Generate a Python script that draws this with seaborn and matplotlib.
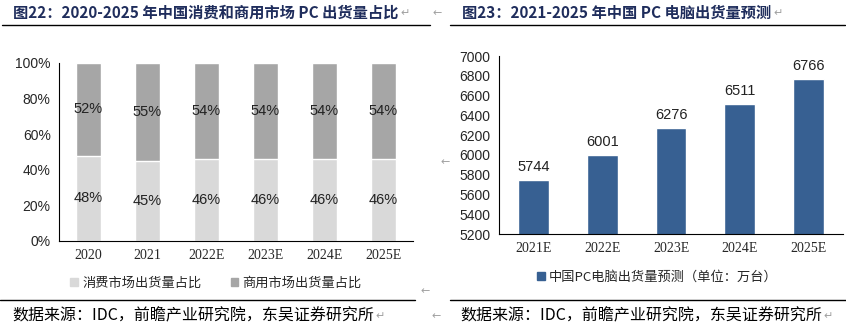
import matplotlib
matplotlib.use("Agg")
import matplotlib.pyplot as plt
from matplotlib.patches import Patch
from matplotlib.lines import Line2D
import seaborn as sns
import pandas as pd
import numpy as np

sns.set_theme(style="white")
plt.rcParams['font.family'] = ['Noto Sans CJK SC', 'DejaVu Sans']

# ---------------- data ----------------
share_years = ["2020", "2021", "2022E", "2023E", "2024E", "2025E"]
consumer_share = [48, 45, 46, 46, 46, 46]
commercial_share = [52, 55, 54, 54, 54, 54]

ship_years = ["2021E", "2022E", "2023E", "2024E", "2025E"]
shipments = [5744, 6001, 6276, 6511, 6766]

title_left = "图22：2020-2025 年中国消费和商用市场 PC 出货量占比"
title_right = "图23：2021-2025 年中国 PC 电脑出货量预测"
source_text = "数据来源：IDC，前瞻产业研究院，东吴证券研究所"
legend_left = ["消费市场出货量占比", "商用市场出货量占比"]
legend_right = "中国PC电脑出货量预测（单位：万台）"

W, H = 846, 329
fig = plt.figure(figsize=(W / 100, H / 100), dpi=100)

def fx(px):
    return px / W

def fy(py):
    return 1 - py / H

light = "#D9D9D9"
dark = "#A6A6A6"
blue = "#376092"
navy = "#1F2D5C"
mark_gray = "#A0A0A0"

# ---------------- left chart ----------------
axl = fig.add_axes([fx(59), fy(241), fx(413) - fx(59), fy(63) - fy(241)])
df_l = pd.DataFrame({"year": share_years,
                     "consumer": consumer_share,
                     "total": [a + b for a, b in zip(consumer_share, commercial_share)]})
sns.barplot(data=df_l, x="year", y="total", color=dark, saturation=1, width=0.41, ax=axl)
sns.barplot(data=df_l, x="year", y="consumer", color=light, saturation=1, width=0.41, ax=axl)
for i, (c, m) in enumerate(zip(consumer_share, commercial_share)):
    axl.text(i, c / 2, f"{c}%", ha="center", va="center", fontsize=10.5,
             family="Liberation Sans", color="#222222")
    axl.text(i, c + m / 2, f"{m}%", ha="center", va="center", fontsize=10.5,
             family="Liberation Sans", color="#222222")
axl.set_ylim(0, 100)
axl.set_xlim(-0.5, len(share_years) - 0.5)
axl.set_yticks(range(0, 101, 20))
axl.set_yticklabels([f"{v}%" for v in range(0, 101, 20)], family="Liberation Sans", fontsize=10)
axl.set_xticks(range(len(share_years)))
axl.set_xticklabels(share_years, family="Liberation Serif", fontsize=10)
axl.set_xticks(np.arange(-0.5, len(share_years), 1), minor=True)
axl.tick_params(axis="x", which="major", length=0, pad=6)
axl.tick_params(axis="x", which="minor", length=4, direction="out", color="black", width=0.8)
axl.tick_params(axis="y", length=3, direction="out", color="black", width=0.8, pad=3)
axl.set_xlabel("")
axl.set_ylabel("")
for s in ["top", "right"]:
    axl.spines[s].set_visible(False)
for s in ["left", "bottom"]:
    axl.spines[s].set_color("black")
    axl.spines[s].set_linewidth(0.8)

fig.legend(handles=[Patch(color=light), Patch(color=dark)], labels=legend_left,
           loc="center", bbox_to_anchor=(fx(216), fy(283)), ncol=2, frameon=False,
           fontsize=9.5, handlelength=0.6, handleheight=0.6, handletextpad=0.3,
           columnspacing=2.2)

# ---------------- right chart ----------------
axr = fig.add_axes([fx(499), fy(234), fx(843) - fx(499), fy(56) - fy(234)])
df_r = pd.DataFrame({"year": ship_years, "value": shipments})
sns.barplot(data=df_r, x="year", y="value", color=blue, saturation=1, width=0.45, ax=axr)
for i, v in enumerate(shipments):
    axr.text(i, v + 60, f"{v}", ha="center", va="bottom", fontsize=10.5,
             family="Liberation Sans", color="#222222")
axr.set_ylim(5200, 7000)
axr.set_xlim(-0.5, len(ship_years) - 0.5)
axr.set_yticks(range(5200, 7001, 200))
axr.set_yticklabels([str(v) for v in range(5200, 7001, 200)], family="Liberation Sans", fontsize=10)
axr.set_xticks(range(len(ship_years)))
axr.set_xticklabels(ship_years, family="Liberation Serif", fontsize=10)
axr.set_xticks(np.arange(-0.5, len(ship_years), 1), minor=True)
axr.tick_params(axis="x", which="major", length=0, pad=6)
axr.tick_params(axis="x", which="minor", length=4, direction="out", color="black", width=0.8)
axr.tick_params(axis="y", length=3, direction="out", color="black", width=0.8, pad=3)
axr.set_xlabel("")
axr.set_ylabel("")
for s in ["top", "right"]:
    axr.spines[s].set_visible(False)
for s in ["left", "bottom"]:
    axr.spines[s].set_color("black")
    axr.spines[s].set_linewidth(0.8)

fig.legend(handles=[Patch(color=blue)], labels=[legend_right],
           loc="center", bbox_to_anchor=(fx(657), fy(277)), ncol=1, frameon=False,
           fontsize=9.5, handlelength=0.6, handleheight=0.6, handletextpad=0.3)

# ---------------- titles, rules, sources ----------------
renderer = fig.canvas.get_renderer()

def text_then_mark(x_px, y_px, s, mark="↵", **kw):
    t = fig.text(fx(x_px), fy(y_px), s, ha="left", va="center", **kw)
    bb = t.get_window_extent(renderer=renderer)
    fig.text(fx(bb.x1 + 2), fy(y_px), mark, fontsize=8, color=mark_gray,
             ha="left", va="center", family="DejaVu Sans")
    return t

text_then_mark(13, 13, title_left, fontsize=11, fontweight="bold", color=navy)
fig.text(fx(437), fy(13), "←", fontsize=8, color=mark_gray, ha="center", va="center",
         family="DejaVu Sans")
text_then_mark(462, 13, title_right, fontsize=11, fontweight="bold", color=navy)

fig.add_artist(Line2D([fx(2), fx(430)], [fy(25), fy(25)], color="black", lw=1))
fig.add_artist(Line2D([fx(450), fx(845)], [fy(25), fy(25)], color="black", lw=1))
fig.add_artist(Line2D([fx(0), fx(415)], [fy(300), fy(300)], color="black", lw=1))
fig.add_artist(Line2D([fx(450), fx(846)], [fy(300), fy(300)], color="black", lw=1))

fig.text(fx(445), fy(162), "←", fontsize=8, color=mark_gray, ha="center", va="center",
         family="DejaVu Sans")
fig.text(fx(425), fy(291), "←", fontsize=8, color=mark_gray, ha="center", va="center",
         family="DejaVu Sans")

text_then_mark(12, 316, source_text, fontsize=11.5, color="black")
fig.text(fx(436), fy(316), "←", fontsize=8, color=mark_gray, ha="center", va="center",
         family="DejaVu Sans")
text_then_mark(460, 316, source_text, fontsize=11.5, color="black")

fig.savefig("out.png", dpi=100, facecolor="white")
